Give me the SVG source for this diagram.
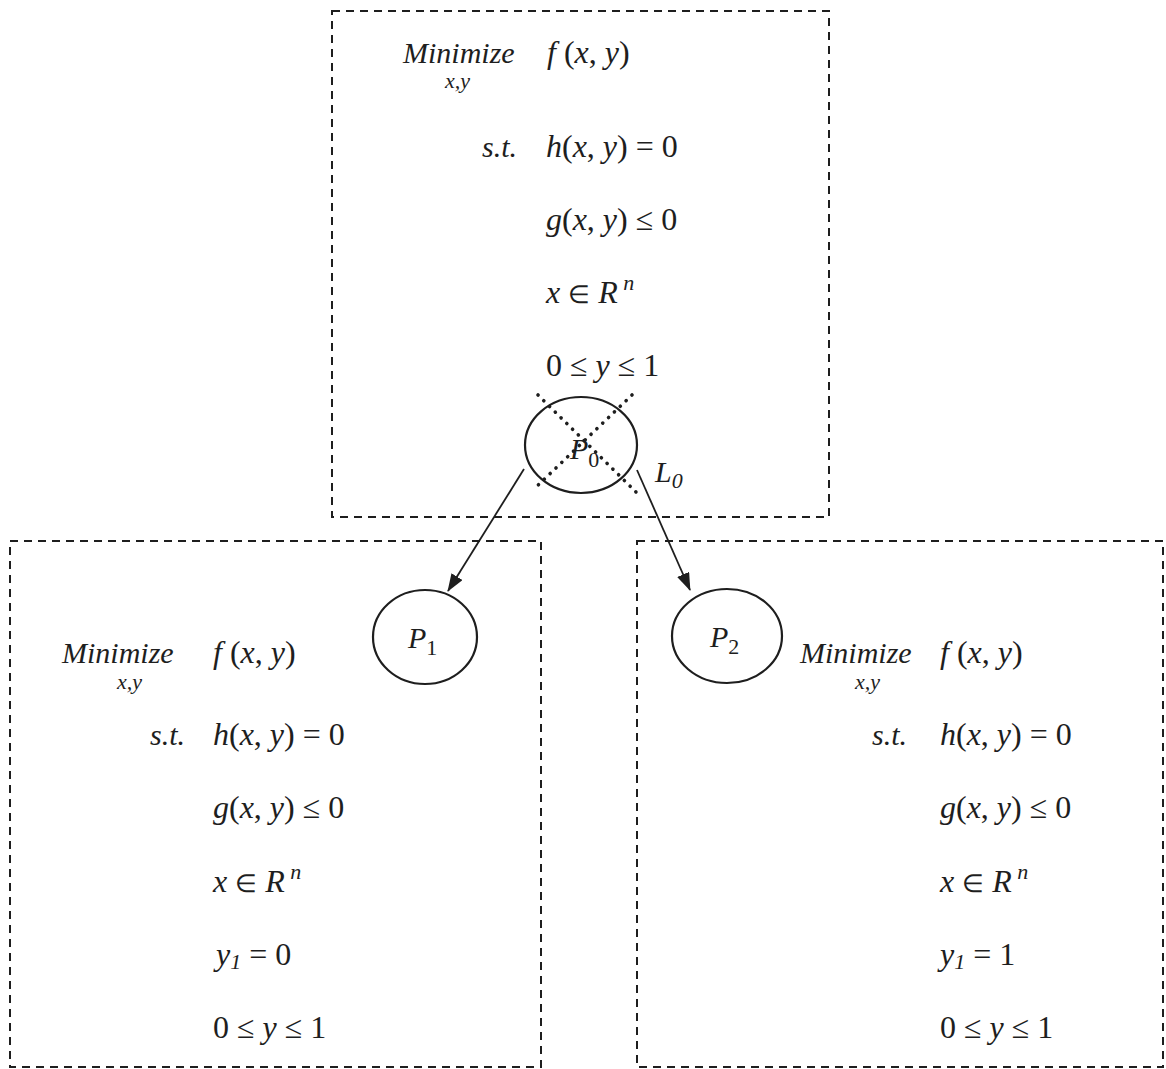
<svg xmlns="http://www.w3.org/2000/svg" width="1166" height="1069" viewBox="0 0 1166 1069">
  <style>
    .box { fill: none; stroke: #1e1e1e; stroke-width: 2; stroke-dasharray: 8 6; }
    .node { fill: none; stroke: #1e1e1e; stroke-width: 2.2; }
    .edge { fill: none; stroke: #1e1e1e; stroke-width: 1.8; }
    .cross { fill: none; stroke: #1e1e1e; stroke-width: 3.6; stroke-dasharray: 0.1 8; stroke-linecap: round; }
    text { font-family: "Liberation Serif", "Times New Roman", serif; font-size: 32px; fill: #1e1e1e; }
    .kw { font-size: 30px; }
    .i { font-style: italic; }
    .sub { font-size: 22px; }
    .el { font-size: 25px; }
    .lbl { font-size: 30px; }
  </style>
  <defs>
    <marker id="arr" viewBox="0 0 18 13" refX="17" refY="6.5" markerWidth="18" markerHeight="13" markerUnits="userSpaceOnUse" orient="auto">
      <path d="M0,0 L18,6.5 L0,13 Z" fill="#1e1e1e"/>
    </marker>
  </defs>
  <rect width="1166" height="1069" fill="#fff"/>

  <!-- root problem P0 -->
  <g id="root">
    <rect class="box" x="332" y="11" width="497" height="506"/>
    <text x="403" y="63" class="i kw">Minimize</text>
    <text x="445" y="88" class="i sub">x,y</text>
    <text x="547" y="63"><tspan class="i">f</tspan> (<tspan class="i">x</tspan>, <tspan class="i">y</tspan>)</text>
    <text x="482" y="157" class="i kw">s.t.</text>
    <text x="546" y="157"><tspan class="i">h</tspan>(<tspan class="i">x</tspan>, <tspan class="i">y</tspan>) = 0</text>
    <text x="546" y="230"><tspan class="i">g</tspan>(<tspan class="i">x</tspan>, <tspan class="i">y</tspan>) ≤ 0</text>
    <text x="546" y="303"><tspan class="i">x</tspan> <tspan class="el">∈</tspan> <tspan class="i">R</tspan><tspan class="i sub" dy="-13"> n</tspan></text>
    <text x="546" y="376">0 ≤ <tspan class="i">y</tspan> ≤ 1</text>
  </g>

  <g id="P0">
    <ellipse class="node" cx="581" cy="445" rx="56" ry="48"/>
    <line class="cross" x1="538" y1="395" x2="637" y2="493"/>
    <line class="cross" x1="632" y1="395" x2="533" y2="490"/>
    <text x="570" y="459" class="i lbl">P<tspan class="sub" font-style="normal" dy="8">0</tspan></text>
    <text x="655" y="482" class="i lbl">L<tspan class="sub" dy="6">0</tspan></text>
  </g>

  <!-- branch y1 = 0 -->
  <g id="left">
    <rect class="box" x="10" y="541" width="531" height="526"/>
    <text x="62" y="663" class="i kw">Minimize</text>
    <text x="117" y="689" class="i sub">x,y</text>
    <text x="213" y="663"><tspan class="i">f</tspan> (<tspan class="i">x</tspan>, <tspan class="i">y</tspan>)</text>
    <text x="150" y="745" class="i kw">s.t.</text>
    <text x="213" y="745"><tspan class="i">h</tspan>(<tspan class="i">x</tspan>, <tspan class="i">y</tspan>) = 0</text>
    <text x="213" y="818"><tspan class="i">g</tspan>(<tspan class="i">x</tspan>, <tspan class="i">y</tspan>) ≤ 0</text>
    <text x="213" y="892"><tspan class="i">x</tspan> <tspan class="el">∈</tspan> <tspan class="i">R</tspan><tspan class="i sub" dy="-13"> n</tspan></text>
    <text x="216" y="965"><tspan class="i">y</tspan><tspan class="i sub" dy="4">1</tspan><tspan dy="-4"> = 0</tspan></text>
    <text x="213" y="1038">0 ≤ <tspan class="i">y</tspan> ≤ 1</text>
  </g>

  <g id="P1">
    <ellipse class="node" cx="425" cy="637" rx="52" ry="47"/>
    <text x="408" y="648" class="i lbl">P<tspan class="sub" font-style="normal" dy="7">1</tspan></text>
  </g>

  <!-- branch y1 = 1 -->
  <g id="right">
    <rect class="box" x="637" y="541" width="526" height="526"/>
    <text x="800" y="663" class="i kw">Minimize</text>
    <text x="855" y="689" class="i sub">x,y</text>
    <text x="940" y="663"><tspan class="i">f</tspan> (<tspan class="i">x</tspan>, <tspan class="i">y</tspan>)</text>
    <text x="872" y="745" class="i kw">s.t.</text>
    <text x="940" y="745"><tspan class="i">h</tspan>(<tspan class="i">x</tspan>, <tspan class="i">y</tspan>) = 0</text>
    <text x="940" y="818"><tspan class="i">g</tspan>(<tspan class="i">x</tspan>, <tspan class="i">y</tspan>) ≤ 0</text>
    <text x="940" y="892"><tspan class="i">x</tspan> <tspan class="el">∈</tspan> <tspan class="i">R</tspan><tspan class="i sub" dy="-13"> n</tspan></text>
    <text x="940" y="965"><tspan class="i">y</tspan><tspan class="i sub" dy="4">1</tspan><tspan dy="-4"> = 1</tspan></text>
    <text x="940" y="1038">0 ≤ <tspan class="i">y</tspan> ≤ 1</text>
  </g>

  <g id="P2">
    <ellipse class="node" cx="727" cy="636" rx="55" ry="47"/>
    <text x="710" y="647" class="i lbl">P<tspan class="sub" font-style="normal" dy="7">2</tspan></text>
  </g>

  <!-- branching connectors -->
  <g id="connectors">
    <line class="edge" x1="524" y1="469" x2="448" y2="591" marker-end="url(#arr)"/>
    <line class="edge" x1="637" y1="470" x2="690" y2="590" marker-end="url(#arr)"/>
  </g>
</svg>
